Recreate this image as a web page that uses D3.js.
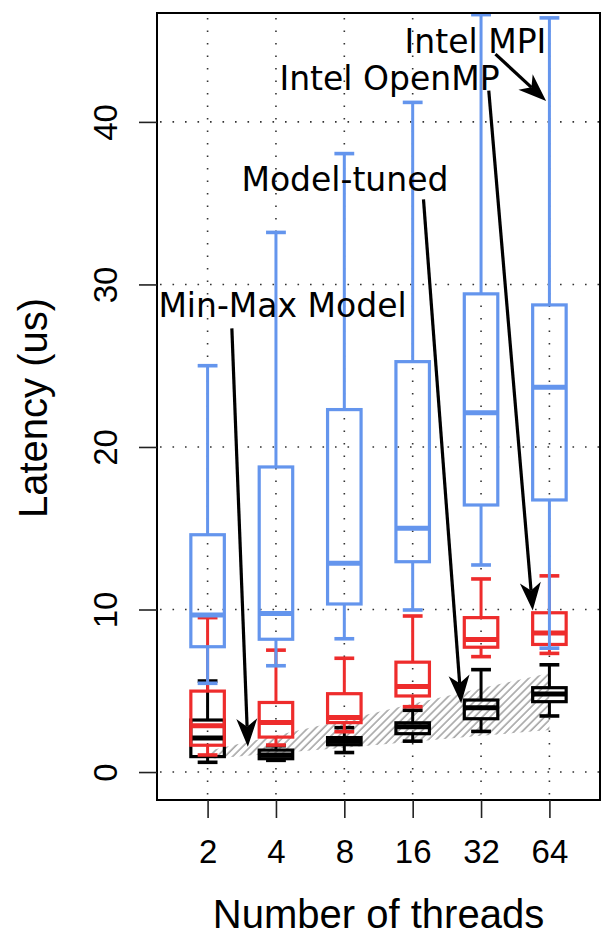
<!DOCTYPE html>
<html><head><meta charset="utf-8">
<script src="https://cdn.jsdelivr.net/npm/d3@7"></script>
<style>body{margin:0;background:#fff}svg{display:block}</style>
</head><body>
<svg id="c" width="614" height="937"></svg>
<script>
// ---- data ----
const threads = ["2", "4", "8", "16", "32", "64"];
const yTicks = [0, 10, 20, 30, 40];

// Model-tuned (black)
const tunedLo  = [0.60, 0.72, 1.20, 1.90, 2.50, 3.45];
const tunedQ1  = [0.95, 0.82, 1.68, 2.36, 3.28, 4.33];
const tunedMed = [2.10, 1.05, 1.90, 2.78, 3.95, 4.80];
const tunedQ3  = [3.20, 1.35, 2.12, 3.03, 4.43, 5.19];
const tunedHi  = [5.60, 1.62, 2.73, 3.80, 6.30, 6.60];

// Intel OpenMP (red)
const ompLo  = [1.05, 1.66, 2.48, 4.02, 7.10, 7.30];
const ompQ1  = [1.65, 2.15, 3.04, 4.68, 7.68, 7.85];
const ompMed = [2.85, 3.05, 3.35, 5.27, 8.15, 8.55];
const ompQ3  = [4.98, 4.28, 4.82, 6.76, 9.50, 9.80];
const ompHi  = [9.50, 7.50, 7.00, 9.60, 11.88, 12.07];

// Intel MPI (blue)
const mpiLo  = [5.46, 6.54, 8.20, 9.97, 12.74, 7.62];
const mpiQ1  = [7.71, 8.17, 10.34, 12.94, 16.43, 16.74];
const mpiMed = [9.66, 9.76, 12.84, 15.00, 22.11, 23.67];
const mpiQ3  = [14.60, 18.77, 22.30, 25.25, 29.42, 28.74];
const mpiHi  = [25.00, 33.20, 38.05, 41.20, 46.60, 46.40];

// Min-Max model band
const modelMin = [0.80, 1.15, 1.50, 1.87, 2.23, 2.58];
const modelMax = [1.30, 2.25, 3.20, 4.20, 5.15, 6.10];

// annotations: label, text (x,y), arrow from (x,y) to (x,y) in data units
const annLabels = ["Min-Max Model", "Model-tuned", "Intel OpenMP", "Intel MPI"];
const annTextX  = [2.096, 3.009, 3.661, 4.918];
const annTextY  = [28.00, 35.77, 41.97, 44.23];
const annFromX  = [1.355, 4.158, 5.113, 5.211];
const annFromY  = [27.30, 35.24, 41.93, 44.17];
const annToX    = [1.589, 4.709, 5.756, 5.952];
const annToY    = [1.56, 4.23, 9.94, 41.29];

// ---- layout ----
const L = 157, R = 600, T = 13, B = 800;
const x = d3.scaleLinear().domain([0.26, 6.74]).range([L, R]);
const y = d3.scaleLinear().domain([-1.72, 46.7]).range([B, T]);
const svg = d3.select("#c");
const axisFont = "'Liberation Sans', Arial, Helvetica, sans-serif";
const annFont = "'DejaVu Sans', sans-serif";

const defs = svg.append("defs");
const pat = defs.append("pattern").attr("id", "hatch")
  .attr("patternUnits", "userSpaceOnUse").attr("width", 5.5).attr("height", 5.5)
  .attr("patternTransform", "rotate(45)");
pat.append("line").attr("x1", 1).attr("y1", 0).attr("x2", 1).attr("y2", 5.5)
  .attr("stroke", "#999").attr("stroke-width", 1.4);

const pos = threads.map((t, i) => i + 1);

// grid (dotted) - beneath the marks
const grid = svg.append("g").attr("stroke", "#333").attr("stroke-width", 1.6)
  .attr("stroke-dasharray", "1.6 10.9").attr("fill", "none");
yTicks.forEach(v => grid.append("line").attr("x1", L + 3).attr("x2", R).attr("y1", y(v)).attr("y2", y(v)));
pos.forEach(p => grid.append("line").attr("x1", x(p)).attr("x2", x(p)).attr("y1", T + 5).attr("y2", B));

// band
const bandPts = pos.map((p, i) => [x(p), y(modelMax[i])])
  .concat(pos.slice().reverse().map((p, j) => [x(p), y(modelMin[pos.length - 1 - j])]));
svg.append("path").attr("d", d3.line()(bandPts) + "Z").attr("fill", "url(#hatch)");

// boxes
const series = [
  {color: "#000000", lo: tunedLo, q1: tunedQ1, med: tunedMed, q3: tunedQ3, hi: tunedHi},
  {color: "#EE2C2C", lo: ompLo, q1: ompQ1, med: ompMed, q3: ompQ3, hi: ompHi},
  {color: "#6495ED", lo: mpiLo, q1: mpiQ1, med: mpiMed, q3: mpiQ3, hi: mpiHi}
];
const boxW = 0.49, capW = 0.29;
series.forEach(s => {
  const g = svg.append("g").attr("stroke", s.color).attr("fill", "none");
  pos.forEach((p, i) => {
    const cx = x(p);
    g.append("line").attr("x1", cx).attr("x2", cx).attr("y1", y(s.q3[i])).attr("y2", y(s.hi[i])).attr("stroke-width", 3);
    g.append("line").attr("x1", cx).attr("x2", cx).attr("y1", y(s.q1[i])).attr("y2", y(s.lo[i])).attr("stroke-width", 3);
    [s.hi[i], s.lo[i]].forEach(v => g.append("line")
      .attr("x1", x(p - capW / 2)).attr("x2", x(p + capW / 2))
      .attr("y1", y(v)).attr("y2", y(v)).attr("stroke-width", 3.6));
    g.append("rect").attr("x", x(p - boxW / 2)).attr("width", x(p + boxW / 2) - x(p - boxW / 2))
      .attr("y", y(s.q3[i])).attr("height", y(s.q1[i]) - y(s.q3[i])).attr("stroke-width", 3.2);
    g.append("line").attr("x1", x(p - boxW / 2)).attr("x2", x(p + boxW / 2))
      .attr("y1", y(s.med[i])).attr("y2", y(s.med[i])).attr("stroke-width", 5);
  });
});

// annotations
annLabels.forEach((lab, i) => {
  svg.append("text").attr("x", x(annTextX[i])).attr("y", y(annTextY[i]))
    .attr("text-anchor", "middle").attr("font-family", annFont).attr("font-size", 33)
    .attr("fill", "#000").text(lab);
  const x1 = x(annFromX[i]), y1 = y(annFromY[i]), x2 = x(annToX[i]), y2 = y(annToY[i]);
  const ang = Math.atan2(y2 - y1, x2 - x1);
  const len = 28, hw = 10.5, notch = 20;
  const ux = Math.cos(ang), uy = Math.sin(ang), px = -uy, py = ux;
  svg.append("line").attr("x1", x1).attr("y1", y1)
    .attr("x2", x2 - ux * notch).attr("y2", y2 - uy * notch)
    .attr("stroke", "#000").attr("stroke-width", 3.2);
  const head = [
    [x2, y2],
    [x2 - ux * len + px * hw, y2 - uy * len + py * hw],
    [x2 - ux * notch, y2 - uy * notch],
    [x2 - ux * len - px * hw, y2 - uy * len - py * hw]
  ];
  svg.append("path").attr("d", d3.line()(head) + "Z").attr("fill", "#000");
});

// plot frame
svg.append("rect").attr("x", L).attr("y", T).attr("width", R - L).attr("height", B - T)
  .attr("fill", "none").attr("stroke", "#000").attr("stroke-width", 2);

// axes
const xAxis = d3.axisBottom(x).tickValues(pos).tickFormat(p => threads[p - 1])
  .tickSize(18).tickPadding(22);
const gx = svg.append("g").attr("transform", `translate(0,${B})`).call(xAxis);
gx.select(".domain").remove();
gx.selectAll("line").attr("stroke", "#222").attr("stroke-width", 1.6);
gx.selectAll("text").attr("font-family", axisFont).attr("font-size", 33).attr("fill", "#000");

const yAxis = d3.axisLeft(y).tickValues(yTicks).tickSize(18);
const gy = svg.append("g").attr("transform", `translate(${L},0)`).call(yAxis);
gy.select(".domain").remove();
gy.selectAll("line").attr("stroke", "#222").attr("stroke-width", 1.6);
gy.selectAll("text").attr("x", null).attr("dy", null)
  .attr("transform", "translate(-40,0) rotate(-90)")
  .attr("text-anchor", "middle").attr("font-family", axisFont).attr("font-size", 33).attr("fill", "#000");

// titles
svg.append("text").attr("x", (L + R) / 2).attr("y", 928).attr("text-anchor", "middle")
  .attr("font-family", axisFont).attr("font-size", 40).attr("fill", "#000").text("Number of threads");
svg.append("text").attr("transform", `translate(46.5,${408}) rotate(-90)`).attr("text-anchor", "middle")
  .attr("font-family", axisFont).attr("font-size", 40).attr("fill", "#000").text("Latency (us)");
</script>
</body></html>
